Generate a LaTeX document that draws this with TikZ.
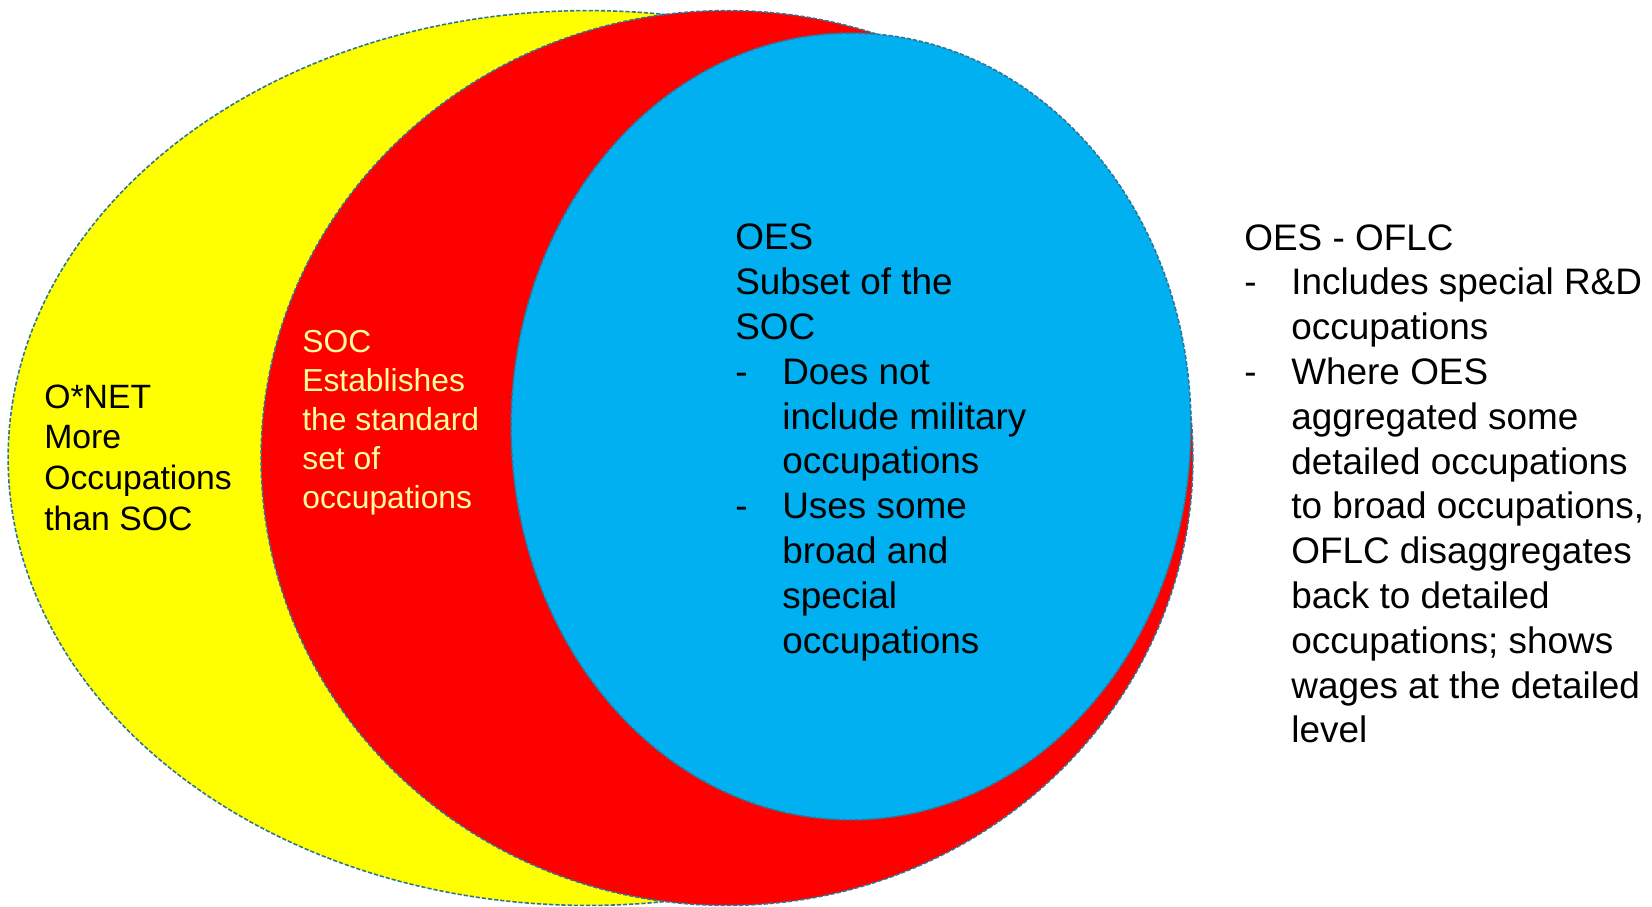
\documentclass[tikz,border=0pt]{standalone}
\usepackage{fontspec}
\setmainfont{Liberation Sans}
\usetikzlibrary{shapes.geometric}
\definecolor{setline}{RGB}{46,117,152}
\definecolor{onetfill}{RGB}{255,255,0}
\definecolor{socfill}{RGB}{255,0,0}
\definecolor{oesfill}{RGB}{0,176,240}
\definecolor{soctext}{RGB}{255,255,153}
\newcommand{\dashline}[1]{\makebox[0.94cm][l]{-}#1}
\newcommand{\moreline}[1]{\hspace*{0.94cm}#1}

\begin{document}
\begin{tikzpicture}[x=0.02cm,y=-0.02cm,
  set node/.style={ellipse, draw=setline, line width=0.9pt, dash pattern=on 2.4pt off 1.1pt, inner sep=0pt},
  set text/.style={anchor=base west, inner sep=0pt, align=left}]
  \useasboundingbox (0,0) rectangle (1652,906);
  % Sets
  \node[set node, fill=onetfill, minimum width=23.2cm, minimum height=17.9cm] (onet) at (588,458) {};
  \node[set node, fill=socfill, minimum width=18.64cm, minimum height=17.9cm] (soc) at (727,458) {};
  \node[set node, fill=oesfill, minimum width=13.6cm, minimum height=15.74cm] (oes) at (851,426.5) {};

  % Labels (anchored at the baseline of the last line)
  \node[set text, font=\fontsize{19.2}{23.2}\selectfont] (onet label) at (44,530.4)
    {O*NET\\More\\Occupations\\than SOC};
  \node[set text, text=soctext, font=\fontsize{18.1}{22.1}\selectfont] (soc label) at (302,508.2)
    {SOC\\Establishes\\the standard\\set of\\occupations};
  \node[set text, font=\fontsize{21}{25.5}\selectfont] (oes label) at (735,653.1)
    {OES\\Subset of the\\SOC\\
     \dashline{Does not}\\\moreline{include military}\\\moreline{occupations}\\
     \dashline{Uses some}\\\moreline{broad and}\\\moreline{special}\\\moreline{occupations}};
  \node[set text, font=\fontsize{21}{25.5}\selectfont] (oflc label) at (1244,742.9)
    {OES - OFLC\\
     \dashline{Includes special R\&D}\\\moreline{occupations}\\
     \dashline{Where OES}\\\moreline{aggregated some}\\\moreline{detailed occupations}\\
     \moreline{to broad occupations,}\\\moreline{OFLC disaggregates}\\\moreline{back to detailed}\\
     \moreline{occupations; shows}\\\moreline{wages at the detailed}\\\moreline{level}};
\end{tikzpicture}
\end{document}
